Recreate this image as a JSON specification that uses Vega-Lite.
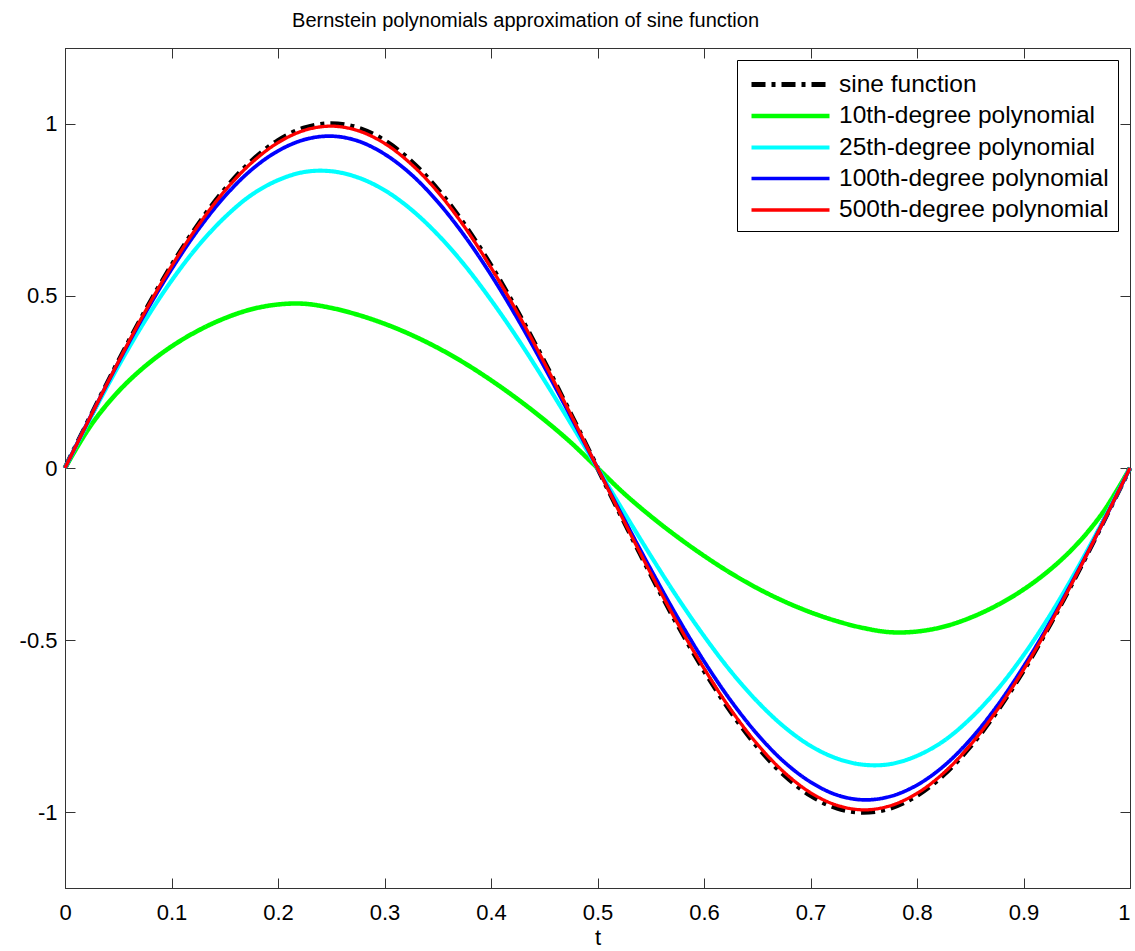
{
  "$schema": "https://vega.github.io/schema/vega-lite/v6.json",
  "autosize": {"type": "none"},
  "width": 1065,
  "height": 840,
  "padding": {"left": 65, "top": 48, "right": 5, "bottom": 63},
  "background": "white",
  "title": {"text": "Bernstein polynomials approximation of sine function", "anchor": "start", "dx": 273, "offset": 17, "fontSize": 20, "font": "Liberation Sans", "fontWeight": "normal", "color": "#000000"},
  "config": {
    "view": {"stroke": "#333333", "strokeWidth": 1},
    "axis": {"labelFont": "Liberation Sans", "labelFontSize": 22, "labelColor": "#000000", "titleFont": "Liberation Sans", "titleFontSize": 22, "titleFontWeight": "normal", "titleColor": "#000000", "domainColor": "#333333", "tickColor": "#333333", "tickSize": -10, "grid": false, "labelFlush": false}
  },
  "data": {"values": [
    {"s":"sine function","t":0,"v":0},{"s":"sine function","t":0.025,"v":0.156},{"s":"sine function","t":0.05,"v":0.309},{"s":"sine function","t":0.075,"v":0.454},{"s":"sine function","t":0.1,"v":0.588},{"s":"sine function","t":0.125,"v":0.707},{"s":"sine function","t":0.15,"v":0.809},{"s":"sine function","t":0.175,"v":0.891},{"s":"sine function","t":0.2,"v":0.951},{"s":"sine function","t":0.225,"v":0.988},{"s":"sine function","t":0.25,"v":1},{"s":"sine function","t":0.275,"v":0.988},{"s":"sine function","t":0.3,"v":0.951},{"s":"sine function","t":0.325,"v":0.891},{"s":"sine function","t":0.35,"v":0.809},{"s":"sine function","t":0.375,"v":0.707},{"s":"sine function","t":0.4,"v":0.588},{"s":"sine function","t":0.425,"v":0.454},{"s":"sine function","t":0.45,"v":0.309},{"s":"sine function","t":0.475,"v":0.156},{"s":"sine function","t":0.5,"v":0},{"s":"sine function","t":0.525,"v":-0.156},{"s":"sine function","t":0.55,"v":-0.309},{"s":"sine function","t":0.575,"v":-0.454},{"s":"sine function","t":0.6,"v":-0.588},{"s":"sine function","t":0.625,"v":-0.707},{"s":"sine function","t":0.65,"v":-0.809},{"s":"sine function","t":0.675,"v":-0.891},{"s":"sine function","t":0.7,"v":-0.951},{"s":"sine function","t":0.725,"v":-0.988},{"s":"sine function","t":0.75,"v":-1},{"s":"sine function","t":0.775,"v":-0.988},{"s":"sine function","t":0.8,"v":-0.951},{"s":"sine function","t":0.825,"v":-0.891},{"s":"sine function","t":0.85,"v":-0.809},{"s":"sine function","t":0.875,"v":-0.707},{"s":"sine function","t":0.9,"v":-0.588},{"s":"sine function","t":0.925,"v":-0.454},{"s":"sine function","t":0.95,"v":-0.309},{"s":"sine function","t":0.975,"v":-0.156},{"s":"sine function","t":1,"v":0},
    {"s":"10th-degree polynomial","t":0,"v":0},{"s":"10th-degree polynomial","t":0.025,"v":0.127},{"s":"10th-degree polynomial","t":0.05,"v":0.222},{"s":"10th-degree polynomial","t":0.075,"v":0.295},{"s":"10th-degree polynomial","t":0.1,"v":0.353},{"s":"10th-degree polynomial","t":0.125,"v":0.399},{"s":"10th-degree polynomial","t":0.15,"v":0.435},{"s":"10th-degree polynomial","t":0.175,"v":0.461},{"s":"10th-degree polynomial","t":0.2,"v":0.475},{"s":"10th-degree polynomial","t":0.225,"v":0.477},{"s":"10th-degree polynomial","t":0.25,"v":0.465},{"s":"10th-degree polynomial","t":0.275,"v":0.445},{"s":"10th-degree polynomial","t":0.3,"v":0.419},{"s":"10th-degree polynomial","t":0.325,"v":0.387},{"s":"10th-degree polynomial","t":0.35,"v":0.349},{"s":"10th-degree polynomial","t":0.375,"v":0.305},{"s":"10th-degree polynomial","t":0.4,"v":0.255},{"s":"10th-degree polynomial","t":0.425,"v":0.2},{"s":"10th-degree polynomial","t":0.45,"v":0.14},{"s":"10th-degree polynomial","t":0.475,"v":0.074},{"s":"10th-degree polynomial","t":0.5,"v":0},{"s":"10th-degree polynomial","t":0.525,"v":-0.074},{"s":"10th-degree polynomial","t":0.55,"v":-0.14},{"s":"10th-degree polynomial","t":0.575,"v":-0.2},{"s":"10th-degree polynomial","t":0.6,"v":-0.255},{"s":"10th-degree polynomial","t":0.625,"v":-0.305},{"s":"10th-degree polynomial","t":0.65,"v":-0.349},{"s":"10th-degree polynomial","t":0.675,"v":-0.387},{"s":"10th-degree polynomial","t":0.7,"v":-0.419},{"s":"10th-degree polynomial","t":0.725,"v":-0.445},{"s":"10th-degree polynomial","t":0.75,"v":-0.465},{"s":"10th-degree polynomial","t":0.775,"v":-0.477},{"s":"10th-degree polynomial","t":0.8,"v":-0.475},{"s":"10th-degree polynomial","t":0.825,"v":-0.461},{"s":"10th-degree polynomial","t":0.85,"v":-0.435},{"s":"10th-degree polynomial","t":0.875,"v":-0.399},{"s":"10th-degree polynomial","t":0.9,"v":-0.353},{"s":"10th-degree polynomial","t":0.925,"v":-0.295},{"s":"10th-degree polynomial","t":0.95,"v":-0.222},{"s":"10th-degree polynomial","t":0.975,"v":-0.127},{"s":"10th-degree polynomial","t":1,"v":0},
    {"s":"25th-degree polynomial","t":0,"v":0},{"s":"25th-degree polynomial","t":0.025,"v":0.152},{"s":"25th-degree polynomial","t":0.05,"v":0.295},{"s":"25th-degree polynomial","t":0.075,"v":0.427},{"s":"25th-degree polynomial","t":0.1,"v":0.544},{"s":"25th-degree polynomial","t":0.125,"v":0.645},{"s":"25th-degree polynomial","t":0.15,"v":0.728},{"s":"25th-degree polynomial","t":0.175,"v":0.793},{"s":"25th-degree polynomial","t":0.2,"v":0.836},{"s":"25th-degree polynomial","t":0.225,"v":0.86},{"s":"25th-degree polynomial","t":0.25,"v":0.862},{"s":"25th-degree polynomial","t":0.275,"v":0.844},{"s":"25th-degree polynomial","t":0.3,"v":0.807},{"s":"25th-degree polynomial","t":0.325,"v":0.751},{"s":"25th-degree polynomial","t":0.35,"v":0.678},{"s":"25th-degree polynomial","t":0.375,"v":0.59},{"s":"25th-degree polynomial","t":0.4,"v":0.488},{"s":"25th-degree polynomial","t":0.425,"v":0.376},{"s":"25th-degree polynomial","t":0.45,"v":0.255},{"s":"25th-degree polynomial","t":0.475,"v":0.129},{"s":"25th-degree polynomial","t":0.5,"v":0},{"s":"25th-degree polynomial","t":0.525,"v":-0.129},{"s":"25th-degree polynomial","t":0.55,"v":-0.255},{"s":"25th-degree polynomial","t":0.575,"v":-0.376},{"s":"25th-degree polynomial","t":0.6,"v":-0.488},{"s":"25th-degree polynomial","t":0.625,"v":-0.59},{"s":"25th-degree polynomial","t":0.65,"v":-0.678},{"s":"25th-degree polynomial","t":0.675,"v":-0.751},{"s":"25th-degree polynomial","t":0.7,"v":-0.807},{"s":"25th-degree polynomial","t":0.725,"v":-0.844},{"s":"25th-degree polynomial","t":0.75,"v":-0.862},{"s":"25th-degree polynomial","t":0.775,"v":-0.86},{"s":"25th-degree polynomial","t":0.8,"v":-0.836},{"s":"25th-degree polynomial","t":0.825,"v":-0.793},{"s":"25th-degree polynomial","t":0.85,"v":-0.728},{"s":"25th-degree polynomial","t":0.875,"v":-0.645},{"s":"25th-degree polynomial","t":0.9,"v":-0.544},{"s":"25th-degree polynomial","t":0.925,"v":-0.427},{"s":"25th-degree polynomial","t":0.95,"v":-0.295},{"s":"25th-degree polynomial","t":0.975,"v":-0.152},{"s":"25th-degree polynomial","t":1,"v":0},
    {"s":"100th-degree polynomial","t":0,"v":0},{"s":"100th-degree polynomial","t":0.025,"v":0.156},{"s":"100th-degree polynomial","t":0.05,"v":0.306},{"s":"100th-degree polynomial","t":0.075,"v":0.448},{"s":"100th-degree polynomial","t":0.1,"v":0.577},{"s":"100th-degree polynomial","t":0.125,"v":0.692},{"s":"100th-degree polynomial","t":0.15,"v":0.789},{"s":"100th-degree polynomial","t":0.175,"v":0.866},{"s":"100th-degree polynomial","t":0.2,"v":0.921},{"s":"100th-degree polynomial","t":0.225,"v":0.954},{"s":"100th-degree polynomial","t":0.25,"v":0.964},{"s":"100th-degree polynomial","t":0.275,"v":0.95},{"s":"100th-degree polynomial","t":0.3,"v":0.912},{"s":"100th-degree polynomial","t":0.325,"v":0.853},{"s":"100th-degree polynomial","t":0.35,"v":0.773},{"s":"100th-degree polynomial","t":0.375,"v":0.675},{"s":"100th-degree polynomial","t":0.4,"v":0.561},{"s":"100th-degree polynomial","t":0.425,"v":0.433},{"s":"100th-degree polynomial","t":0.45,"v":0.294},{"s":"100th-degree polynomial","t":0.475,"v":0.149},{"s":"100th-degree polynomial","t":0.5,"v":0},{"s":"100th-degree polynomial","t":0.525,"v":-0.149},{"s":"100th-degree polynomial","t":0.55,"v":-0.294},{"s":"100th-degree polynomial","t":0.575,"v":-0.433},{"s":"100th-degree polynomial","t":0.6,"v":-0.561},{"s":"100th-degree polynomial","t":0.625,"v":-0.675},{"s":"100th-degree polynomial","t":0.65,"v":-0.773},{"s":"100th-degree polynomial","t":0.675,"v":-0.853},{"s":"100th-degree polynomial","t":0.7,"v":-0.912},{"s":"100th-degree polynomial","t":0.725,"v":-0.95},{"s":"100th-degree polynomial","t":0.75,"v":-0.964},{"s":"100th-degree polynomial","t":0.775,"v":-0.954},{"s":"100th-degree polynomial","t":0.8,"v":-0.921},{"s":"100th-degree polynomial","t":0.825,"v":-0.866},{"s":"100th-degree polynomial","t":0.85,"v":-0.789},{"s":"100th-degree polynomial","t":0.875,"v":-0.692},{"s":"100th-degree polynomial","t":0.9,"v":-0.577},{"s":"100th-degree polynomial","t":0.925,"v":-0.448},{"s":"100th-degree polynomial","t":0.95,"v":-0.306},{"s":"100th-degree polynomial","t":0.975,"v":-0.156},{"s":"100th-degree polynomial","t":1,"v":0},
    {"s":"500th-degree polynomial","t":0,"v":0},{"s":"500th-degree polynomial","t":0.025,"v":0.156},{"s":"500th-degree polynomial","t":0.05,"v":0.308},{"s":"500th-degree polynomial","t":0.075,"v":0.453},{"s":"500th-degree polynomial","t":0.1,"v":0.586},{"s":"500th-degree polynomial","t":0.125,"v":0.704},{"s":"500th-degree polynomial","t":0.15,"v":0.805},{"s":"500th-degree polynomial","t":0.175,"v":0.886},{"s":"500th-degree polynomial","t":0.2,"v":0.945},{"s":"500th-degree polynomial","t":0.225,"v":0.981},{"s":"500th-degree polynomial","t":0.25,"v":0.993},{"s":"500th-degree polynomial","t":0.275,"v":0.98},{"s":"500th-degree polynomial","t":0.3,"v":0.943},{"s":"500th-degree polynomial","t":0.325,"v":0.883},{"s":"500th-degree polynomial","t":0.35,"v":0.802},{"s":"500th-degree polynomial","t":0.375,"v":0.701},{"s":"500th-degree polynomial","t":0.4,"v":0.582},{"s":"500th-degree polynomial","t":0.425,"v":0.45},{"s":"500th-degree polynomial","t":0.45,"v":0.306},{"s":"500th-degree polynomial","t":0.475,"v":0.155},{"s":"500th-degree polynomial","t":0.5,"v":0},{"s":"500th-degree polynomial","t":0.525,"v":-0.155},{"s":"500th-degree polynomial","t":0.55,"v":-0.306},{"s":"500th-degree polynomial","t":0.575,"v":-0.45},{"s":"500th-degree polynomial","t":0.6,"v":-0.582},{"s":"500th-degree polynomial","t":0.625,"v":-0.701},{"s":"500th-degree polynomial","t":0.65,"v":-0.802},{"s":"500th-degree polynomial","t":0.675,"v":-0.883},{"s":"500th-degree polynomial","t":0.7,"v":-0.943},{"s":"500th-degree polynomial","t":0.725,"v":-0.98},{"s":"500th-degree polynomial","t":0.75,"v":-0.993},{"s":"500th-degree polynomial","t":0.775,"v":-0.981},{"s":"500th-degree polynomial","t":0.8,"v":-0.945},{"s":"500th-degree polynomial","t":0.825,"v":-0.886},{"s":"500th-degree polynomial","t":0.85,"v":-0.805},{"s":"500th-degree polynomial","t":0.875,"v":-0.704},{"s":"500th-degree polynomial","t":0.9,"v":-0.586},{"s":"500th-degree polynomial","t":0.925,"v":-0.453},{"s":"500th-degree polynomial","t":0.95,"v":-0.308},{"s":"500th-degree polynomial","t":0.975,"v":-0.156},{"s":"500th-degree polynomial","t":1,"v":0}
  ]},
  "encoding": {
    "color": {"field": "s", "type": "nominal",
      "scale": {"domain": ["sine function","10th-degree polynomial","25th-degree polynomial","100th-degree polynomial","500th-degree polynomial"], "range": ["#000000","#00ff00","#00ffff","#0000ff","#ff0000"]},
      "legend": {"orient": "none", "legendX": 672, "legendY": 12, "title": null, "symbolType": "M-3,0H3", "symbolSize": 676, "labelFontSize": 24.5, "labelFont": "Liberation Sans", "labelColor": "#000000", "labelLimit": 400, "strokeColor": "#000000", "fillColor": "#ffffff", "padding": 9, "rowPadding": 4.5, "symbolOffset": 29, "labelOffset": 33, "cornerRadius": 0}},
    "strokeDash": {"field": "s", "type": "nominal",
      "scale": {"domain": ["sine function","10th-degree polynomial","25th-degree polynomial","100th-degree polynomial","500th-degree polynomial"], "range": [[14,6,4,6],[1,0],[1,0],[1,0],[1,0]]}},
    "strokeWidth": {"field": "s", "type": "nominal",
      "scale": {"domain": ["sine function","10th-degree polynomial","25th-degree polynomial","100th-degree polynomial","500th-degree polynomial"], "range": [5,3.3,3.3,3.3,3.3]}}
  },
  "layer": [
    {
      "transform": [{"filter": "datum.s === 'sine function'"}],
      "mark": {"type": "line", "interpolate": "catmull-rom", "strokeCap": "butt"},
      "encoding": {
        "x": {"field": "t", "type": "quantitative", "scale": {"domain": [0, 1], "nice": false, "zero": false},
          "axis": {"orient": "bottom", "values": [0,0.1,0.2,0.3,0.4,0.5,0.6,0.7,0.8,0.9,1], "labelExpr": "'' + datum.value", "labelAlign": {"condition": {"test": "datum.value == 1", "value": "right"}, "value": "center"}, "title": "t", "labelPadding": 24, "titlePadding": 4}},
        "y": {"field": "v", "type": "quantitative", "scale": {"domain": [-1.22, 1.22], "nice": false, "zero": false},
          "axis": {"orient": "left", "values": [-1,-0.5,0,0.5,1], "labelExpr": "'' + datum.value", "title": null, "labelPadding": 18}}
      }
    },
    {
      "transform": [{"filter": "datum.s === '10th-degree polynomial'"}],
      "mark": {"type": "line", "interpolate": "catmull-rom"},
      "encoding": {
        "x": {"field": "t", "type": "quantitative", "axis": {"orient": "top", "values": [0,0.1,0.2,0.3,0.4,0.5,0.6,0.7,0.8,0.9,1], "labels": false, "title": null}},
        "y": {"field": "v", "type": "quantitative", "axis": {"orient": "right", "values": [-1,-0.5,0,0.5,1], "labels": false, "title": null}}
      }
    },
    {
      "transform": [{"filter": "datum.s === '25th-degree polynomial'"}],
      "mark": {"type": "line", "interpolate": "catmull-rom"},
      "encoding": {
        "x": {"field": "t", "type": "quantitative", "axis": null},
        "y": {"field": "v", "type": "quantitative", "axis": null}
      }
    },
    {
      "transform": [{"filter": "datum.s === '100th-degree polynomial'"}],
      "mark": {"type": "line", "interpolate": "catmull-rom"},
      "encoding": {
        "x": {"field": "t", "type": "quantitative", "axis": null},
        "y": {"field": "v", "type": "quantitative", "axis": null}
      }
    },
    {
      "transform": [{"filter": "datum.s === '500th-degree polynomial'"}],
      "mark": {"type": "line", "interpolate": "catmull-rom"},
      "encoding": {
        "x": {"field": "t", "type": "quantitative", "axis": null},
        "y": {"field": "v", "type": "quantitative", "axis": null}
      }
    }
  ],
  "resolve": {"axis": {"x": "independent", "y": "independent"}}
}
